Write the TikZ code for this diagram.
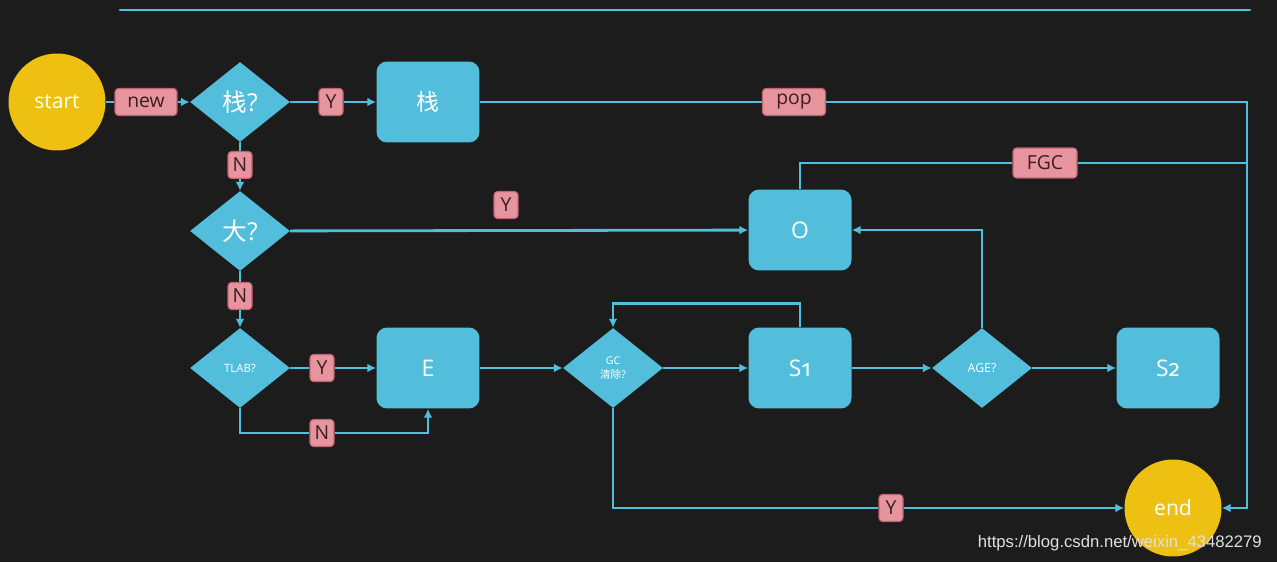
\documentclass[tikz,border=0pt]{standalone}
\usepackage{fontspec}
\setmainfont{Open Sans}
\newfontfamily\cjk{Noto Sans CJK SC}
\newfontfamily\oldfig[Numbers=OldStyle]{Fira Sans}
\newfontfamily\markfont{Liberation Sans}
\usepackage{tikz}
\usetikzlibrary{shapes.geometric, arrows.meta}

\definecolor{board}{RGB}{28,28,28}
\definecolor{flow}{RGB}{82,190,220}
\definecolor{sun}{RGB}{238,192,18}
\definecolor{tagpink}{RGB}{230,148,158}
\definecolor{tagedge}{RGB}{196,98,112}
\definecolor{tagtext}{RGB}{58,30,32}

\begin{document}
\begin{tikzpicture}[x=0.02cm, y=0.02cm,
	>={Latex[length=5pt, width=5pt]},
	line/.style={draw=flow, line width=1.6pt},
	endpoint/.style={circle, fill=sun, minimum size=1.94cm, inner sep=0pt, text=white, font=\fontsize{12}{14}\selectfont},
	decision/.style={diamond, fill=flow, minimum width=2cm, minimum height=1.6cm, inner sep=0pt, text=white, font=\fontsize{14}{16}\selectfont},
	area/.style={fill=flow, rounded corners=6pt, minimum width=2.06cm, minimum height=1.62cm, text=white, font=\fontsize{13}{15}\selectfont},
	tag/.style={fill=tagpink, draw=tagedge, line width=0.6pt, rounded corners=2pt, text=tagtext, inner sep=0pt, minimum width=0.48cm, minimum height=0.54cm, font=\fontsize{11}{13}\selectfont}
]

	\fill[board] (0,0) rectangle (1277,562);
	\draw[flow, line width=1.5pt, line cap=round] (120,552) -- (1250,552);

	\node[endpoint] (start) at (57,460) {start};
	\node[tag, minimum width=1.24cm] (newtag) at (146,460) {new};
	\node[decision] (stackq) at (240,460) {{\cjk 栈}?};
	\node[tag] (ystack) at (331,460) {Y};
	\node[area] (stack) at (428,460) {\cjk 栈};
	\node[tag, minimum width=1.26cm] (poptag) at (794,460) {pop};
	\coordinate (railtop) at (1247,460);

	\node[tag] (nstack) at (240,397) {N};
	\node[decision] (bigq) at (240,331) {{\cjk 大}?};
	\node[tag] (ybig) at (506,357) {Y};
	\node[area] (old) at (800,332) {O};
	\node[tag, minimum width=1.28cm, minimum height=0.6cm] (fgctag) at (1045,399) {FGC};
	\coordinate (railfgc) at (1247,399);

	\node[tag] (nbig) at (240,266) {N};
	\node[decision, font=\fontsize{6.5}{8}\selectfont] (tlab) at (240,194) {TLAB?};
	\node[tag] (ytlab) at (322,194) {Y};
	\node[area] (eden) at (428,194) {E};
	\node[tag] (ntlab) at (322,129) {N};
	\node[decision, font=\fontsize{6}{8}\selectfont, align=center] (gc) at (613,194) {GC\\{\cjk 清除}?};
	\node[area] (sone) at (800,194) {S{\oldfig 1}};
	\node[decision, font=\fontsize{7}{8}\selectfont] (age) at (982,194) {AGE?};
	\node[area] (stwo) at (1168,194) {S{\oldfig 2}};
	\node[tag] (ygc) at (891,54) {Y};
	\node[endpoint] (finish) at (1173,54) {end};

	\draw[line] (start) -- (newtag);
	\draw[line, ->] (newtag) -- (stackq);
	\draw[line] (stackq) -- (ystack);
	\draw[line, ->] (ystack) -- (stack);
	\draw[line] (stack) -- (poptag);
	\draw[line, ->] (poptag) -- (railtop) |- (finish);

	\draw[line] (stackq) -- (nstack);
	\draw[line, ->] (nstack) -- (bigq);
	\draw[line, ->] (bigq) -- (old);
	\draw[line] (old.north) |- (fgctag);
	\draw[line] (fgctag) -- (railfgc);

	\draw[line] (bigq) -- (nbig);
	\draw[line, ->] (nbig) -- (tlab);
	\draw[line] (tlab) -- (ytlab);
	\draw[line, ->] (ytlab) -- (eden);
	\draw[line] (tlab.south) |- (ntlab);
	\draw[line, ->] (ntlab) -| (eden.south);
	\draw[line, ->] (eden) -- (gc);
	\draw[line, ->] (gc) -- (sone);
	\draw[line, ->] (sone.north) -- ++(0,24) -| (gc.north);
	\draw[line, ->] (sone) -- (age);
	\draw[line, ->] (age.north) |- (old.east);
	\draw[line, ->] (age) -- (stwo);
	\draw[line] (gc.south) |- (ygc);
	\draw[line, ->] (ygc) -- (finish);

	\node[anchor=east, text=white!88!black, font=\markfont\fontsize{9.5}{11}\selectfont] (mark) at (1268,19) {https://blog.csdn.net/weixin\_43482279};

\end{tikzpicture}
\end{document}
